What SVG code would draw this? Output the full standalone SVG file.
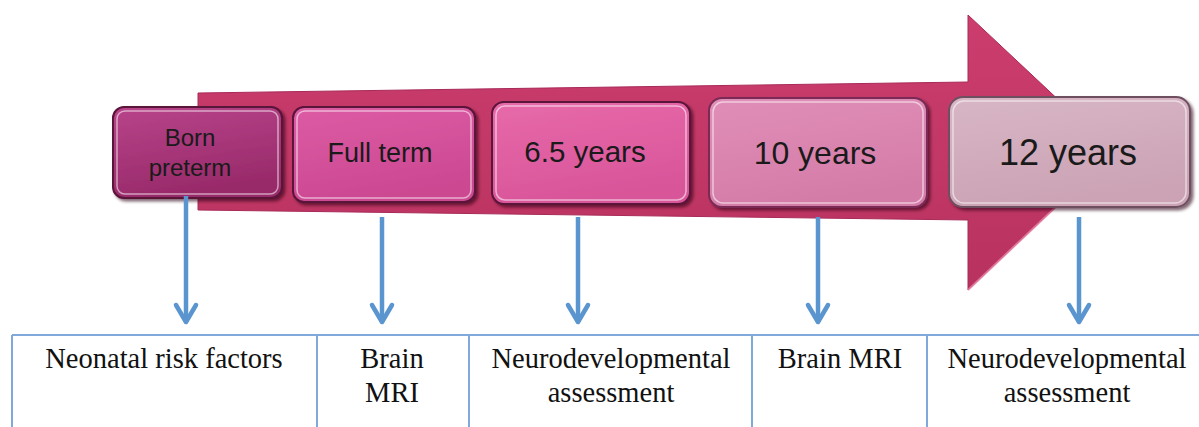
<svg xmlns="http://www.w3.org/2000/svg" width="1199" height="427" viewBox="0 0 1199 427">
  <defs>
    <linearGradient id="gArrow" x1="0" y1="0" x2="0" y2="1">
      <stop offset="0" stop-color="#cc3d6e"/>
      <stop offset="1" stop-color="#b8325f"/>
    </linearGradient>
    <linearGradient id="gBorn" x1="0" y1="0" x2="0.3" y2="1">
      <stop offset="0" stop-color="#b8448a"/>
      <stop offset="1" stop-color="#982a6a"/>
    </linearGradient>
    <linearGradient id="gFull" x1="0" y1="0" x2="0.3" y2="1">
      <stop offset="0" stop-color="#dc5ca4"/>
      <stop offset="1" stop-color="#cc4892"/>
    </linearGradient>
    <linearGradient id="g65" x1="0" y1="0" x2="0.3" y2="1">
      <stop offset="0" stop-color="#e76aaa"/>
      <stop offset="1" stop-color="#d9559a"/>
    </linearGradient>
    <linearGradient id="g10" x1="0" y1="0" x2="0.3" y2="1">
      <stop offset="0" stop-color="#e08fb8"/>
      <stop offset="1" stop-color="#d47ca8"/>
    </linearGradient>
    <linearGradient id="g12" x1="0" y1="0" x2="0.3" y2="1">
      <stop offset="0" stop-color="#d8b6c5"/>
      <stop offset="1" stop-color="#cba3b5"/>
    </linearGradient>
    <filter id="shadow" x="-5%" y="-10%" width="115%" height="130%">
      <feDropShadow dx="2.5" dy="2.5" stdDeviation="1.5" flood-color="#2a0618" flood-opacity="0.6"/>
    </filter>
    <marker id="chev" viewBox="-24 -14 28 28" refX="0" refY="0" markerWidth="28" markerHeight="28" markerUnits="userSpaceOnUse" orient="auto">
      <path d="M-17,-10 L0,0 L-17,10" fill="none" stroke="#5b95cf" stroke-width="4.5" stroke-linecap="round" stroke-linejoin="round"/>
    </marker>
  </defs>
  <style>
    .box { stroke: #5a1238; stroke-width: 2; filter: url(#shadow); }
    .bevel { fill: none; stroke: #ffffff; stroke-opacity: 0.55; stroke-width: 1.5; }
    .lbl { font-family: "Liberation Sans", Arial, sans-serif; fill: #1a1a1a; text-anchor: middle; }
    .conn { stroke: #5b95cf; stroke-width: 4.5; fill: none; marker-end: url(#chev); }
    .grid { stroke: #80a8da; stroke-width: 2; fill: none; }
    .cell { font-family: "Liberation Serif", "Times New Roman", serif; font-size: 28.5px; fill: #111111; text-anchor: middle; }
  </style>

  <g id="timeline-arrow">
    <polygon points="198,93 968,82 968,15 1114,152 968,290 968,220 198,210" fill="url(#gArrow)" stroke="#a82a58" stroke-width="1"/>
    <polyline points="968,290 1114,152" fill="none" stroke="#e884a8" stroke-width="2" stroke-opacity="0.8"/>
  </g>

  <g id="node-born-preterm">
    <rect class="box" x="113" y="107" width="169" height="91" rx="11" fill="url(#gBorn)"/>
    <rect class="bevel" x="117" y="111" width="161" height="83" rx="8"/>
    <text class="lbl" x="190" y="146" font-size="24">Born</text>
    <text class="lbl" x="190" y="176" font-size="24">preterm</text>
  </g>

  <g id="node-full-term">
    <rect class="box" x="293" y="107" width="182" height="95" rx="11" fill="url(#gFull)"/>
    <rect class="bevel" x="297" y="111" width="174" height="87" rx="8"/>
    <text class="lbl" x="380" y="162" font-size="27">Full term</text>
  </g>

  <g id="node-6-5-years">
    <rect class="box" x="492" y="102" width="198" height="102" rx="12" fill="url(#g65)"/>
    <rect class="bevel" x="496" y="106" width="190" height="94" rx="9"/>
    <text class="lbl" x="585" y="162" font-size="29.5">6.5 years</text>
  </g>

  <g id="node-10-years">
    <rect class="box" x="709" y="98" width="218" height="109" rx="13" fill="url(#g10)" style="stroke:#7a2a55"/>
    <rect class="bevel" x="713" y="102" width="210" height="101" rx="10"/>
    <text class="lbl" x="815" y="164" font-size="32">10 years</text>
  </g>

  <g id="node-12-years">
    <rect class="box" x="949" y="97" width="241" height="110" rx="14" fill="url(#g12)" style="stroke:#6e5060"/>
    <rect class="bevel" x="953" y="101" width="233" height="102" rx="11"/>
    <text class="lbl" x="1068" y="165" font-size="36">12 years</text>
  </g>

  <g id="connectors">
    <line class="conn" x1="186" y1="196" x2="186" y2="322"/>
    <line class="conn" x1="382" y1="217" x2="382" y2="322"/>
    <line class="conn" x1="578" y1="217" x2="578" y2="322"/>
    <line class="conn" x1="818" y1="217" x2="818" y2="322"/>
    <line class="conn" x1="1079" y1="217" x2="1079" y2="322"/>
  </g>

  <g id="table">
    <line class="grid" x1="12" y1="335" x2="1199" y2="335"/>
    <line class="grid" x1="12" y1="335" x2="12" y2="427"/>
    <line class="grid" x1="317" y1="335" x2="317" y2="427"/>
    <line class="grid" x1="469" y1="335" x2="469" y2="427"/>
    <line class="grid" x1="752" y1="335" x2="752" y2="427"/>
    <line class="grid" x1="927" y1="335" x2="927" y2="427"/>
  </g>

  <g id="cell-neonatal">
    <text class="cell" x="164" y="368">Neonatal risk factors</text>
  </g>
  <g id="cell-brain-mri-1">
    <text class="cell" x="392" y="368">Brain</text>
    <text class="cell" x="392" y="402">MRI</text>
  </g>
  <g id="cell-neuro-1">
    <text class="cell" x="611" y="368">Neurodevelopmental</text>
    <text class="cell" x="611" y="402">assessment</text>
  </g>
  <g id="cell-brain-mri-2">
    <text class="cell" x="840" y="368">Brain MRI</text>
  </g>
  <g id="cell-neuro-2">
    <text class="cell" x="1067" y="368">Neurodevelopmental</text>
    <text class="cell" x="1067" y="402">assessment</text>
  </g>
</svg>
